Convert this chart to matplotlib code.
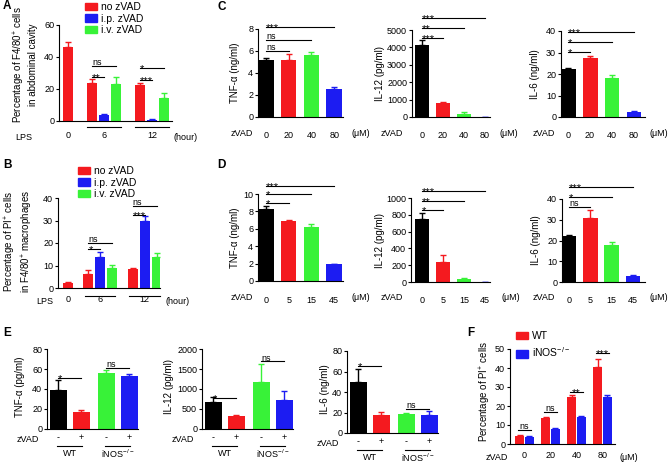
"""
Multi-panel zVAD / LPS bar figure (A-F), GraphPad style.
"""

import matplotlib

matplotlib.use("Agg")
import matplotlib.pyplot as plt
from matplotlib.patches import Patch

plt.rcParams["font.family"] = ["Liberation Sans", "DejaVu Sans"]
plt.rcParams["font.size"] = 7
plt.rcParams["mathtext.fontset"] = "custom"
plt.rcParams["mathtext.rm"] = "Liberation Sans"
plt.rcParams["mathtext.it"] = "Liberation Sans:italic"
plt.rcParams["mathtext.bf"] = "Liberation Sans:bold"

RED, BLUE, GREEN, BLACK = "#f41a1f", "#1c1cf2", "#38f238", "#000000"
W, H = 669, 467
TICK_FS = 6.5

# ---- data -------------------------------------------------------------
lps_labels = ["0", "6", "12"]
treat_labels = ["no zVAD", "i.p. zVAD", "i.v. zVAD"]

# A: % F4/80+ cells in abdominal cavity (0h, 6h x3, 12h x3)
a_vals = [46.5, 23.8, 3.9, 23.4, 22.3, 0.8, 14.6]
a_errs = [2.8, 2.3, 0.6, 3.8, 1.2, 0.3, 3.0]
a_sig = ["ns", "**", "*", "***"]

# B: % PI+ cells in F4/80+ macrophages
b_vals = [2.2, 6.4, 14.0, 9.1, 8.5, 29.6, 14.0]
b_errs = [0.3, 1.6, 2.1, 1.1, 0.4, 2.4, 1.7]
b_sig = ["ns", "*", "ns", "***"]

zvad_c = ["0", "20", "40", "80"]
c_tnf = [5.15, 5.2, 5.65, 2.55]
c_tnf_err = [0.2, 0.5, 0.3, 0.15]
c_tnf_sig = ["***", "ns", "ns"]
c_il12 = [4150, 820, 150, 20]
c_il12_err = [280, 70, 110, 5]
c_il12_sig = ["***", "**", "***"]
c_il6 = [22.3, 27.3, 18.0, 2.5]
c_il6_err = [0.3, 0.9, 1.5, 0.2]
c_il6_sig = ["***", "*", "*"]

zvad_d = ["0", "5", "15", "45"]
d_tnf = [8.3, 6.9, 6.15, 1.95]
d_tnf_err = [0.35, 0.1, 0.35, 0.05]
d_tnf_sig = ["***", "*", "*"]
d_il12 = [750, 240, 30, 3]
d_il12_err = [70, 80, 12, 1]
d_il12_sig = ["***", "**", "*"]
d_il6 = [22.3, 31.0, 17.8, 3.0]
d_il6_err = [0.3, 3.6, 1.4, 0.6]
d_il6_sig = ["***", "*", "ns"]

e_ticks = ["-", "+", "-", "+"]
e_groups = ["WT", r"iNOS$^{-/-}$"]
e_tnf = [39.5, 17.0, 56.5, 53.0]
e_tnf_err = [10.0, 2.0, 3.0, 2.5]
e_il12 = [670, 330, 1180, 720]
e_il12_err = [130, 30, 450, 230]
e_il6 = [49.5, 17.5, 19.0, 18.0]
e_il6_err = [13.0, 3.0, 0.5, 3.5]
e_sig = ["*", "ns"]

f_labels = ["0", "20", "40", "80"]
f_series = ["WT", r"iNOS$^{-/-}$"]
f_wt = [4.0, 13.5, 25.0, 40.5]
f_wt_err = [0.6, 0.8, 1.0, 4.5]
f_ko = [3.7, 8.0, 14.0, 24.5]
f_ko_err = [0.5, 0.3, 1.0, 1.5]
f_sig = ["ns", "ns", "**", "***"]


# ---- helpers ----------------------------------------------------------
def add_ax(fig, l, t, r, b):
    return fig.add_axes([l / W, 1 - b / H, (r - l) / W, (b - t) / H])


def frac(ax, dx, dy):
    bb = ax.get_position()
    return dx / (bb.width * W), dy / (bb.height * H)


def style(ax, ylim, yticks, xlim):
    for s in ["top", "right"]:
        ax.spines[s].set_visible(False)
    for s in ["left", "bottom"]:
        ax.spines[s].set_linewidth(0.8)
    ax.set_ylim(*ylim)
    ax.set_yticks(yticks)
    ax.set_xlim(*xlim)
    ax.tick_params(axis="y", length=2.5, width=0.8, pad=1, labelsize=TICK_FS)
    ax.tick_params(axis="x", length=0, labelsize=TICK_FS)


def bars(ax, x, vals, errs, colors, width):
    ax.bar(x, vals, width, color=colors, edgecolor="none", zorder=2)
    for xi, v, e, c in zip(x, vals, errs, colors):
        ax.errorbar(xi, v, yerr=[[0], [e]], color=c, capsize=2.5,
                    elinewidth=1, capthick=1, zorder=1)


def sig(ax, x1, x2, y, text, center=False):
    ax.plot([x1, x2], [y, y], color="k", lw=0.8, clip_on=False)
    stars = "*" in text
    off = -2.8 if stars else 0.6
    xt = (x1 + x2) / 2 if center else x1
    ax.annotate(text, (xt, y), xytext=(0, off), textcoords="offset points",
                ha="center" if center else "left", va="baseline",
                fontsize=8 if stars else 6.5, annotation_clip=False)


def under(ax, x1, x2, dy):
    _, fy = frac(ax, 0, dy)
    ax.plot([x1, x2], [-fy, -fy], transform=ax.get_xaxis_transform(),
            color="k", lw=0.8, clip_on=False)


def side_text(ax, dx, dy, text, ha):
    fx, fy = frac(ax, dx, dy)
    ax.text(fx, -fy, text, transform=ax.transAxes, ha=ha, va="center",
            fontsize=TICK_FS)


def ylabel(ax, text, dx, yc):
    fx, _ = frac(ax, dx, 0)
    ax.set_ylabel(text, fontsize=7, linespacing=1.15)
    ax.yaxis.set_label_coords(fx, yc)


def legend(ax, colors, labels, x, y, spacing):
    handles = [Patch(color=c, label=l) for c, l in zip(colors, labels)]
    ax.legend(handles=handles, loc="upper left", bbox_to_anchor=(x / W, 1 - y / H),
              bbox_transform=ax.figure.transFigure, frameon=False, fontsize=7.5,
              handlelength=1.15, handleheight=0.75, handletextpad=0.4,
              labelspacing=spacing, borderpad=0, borderaxespad=0)


def cyto_panel(fig, box, xlim, vals, errs, ylim, yticks, ylab, lab_dx, labels,
               sigs, sig_y, zvad_dx, um_dx, row_dy, pad):
    ax = add_ax(fig, *box)
    x = [0, 1, 2, 3]
    bars(ax, x, vals, errs, [BLACK, RED, GREEN, BLUE], 0.68)
    style(ax, ylim, yticks, xlim)
    ax.set_xticks(x, labels)
    ax.tick_params(axis="x", pad=pad)
    for x2, y, s in zip([3, 2, 1], sig_y, sigs):
        sig(ax, 0, x2, y, s)
    side_text(ax, zvad_dx, row_dy, "zVAD", "right")
    side_text(ax, um_dx, row_dy, "(\u03bcM)", "left")
    ylabel(ax, ylab, lab_dx, 0.5)
    return ax


def e_panel(fig, box, vals, errs, ylim, yticks, ylab, sig_y, lab_dx):
    ax = add_ax(fig, *box)
    x = [0, 1, 2.1, 3.1]
    bars(ax, x, vals, errs, [BLACK, RED, GREEN, BLUE], 0.74)
    style(ax, ylim, yticks, (-0.48, 3.48))
    ax.set_xticks(x, e_ticks)
    ax.tick_params(axis="x", pad=3)
    sig(ax, 0, 1, sig_y[0], e_sig[0])
    sig(ax, 2.1, 3.1, sig_y[1], e_sig[1])
    side_text(ax, -8, 10, "zVAD", "right")
    under(ax, -0.05, 1.05, 17)
    under(ax, 2.05, 3.15, 17)
    _, fy = frac(ax, 0, 25)
    ax.text(0.5, -fy, e_groups[0], transform=ax.get_xaxis_transform(),
            ha="center", va="center", fontsize=TICK_FS)
    ax.text(2.6, -fy, e_groups[1], transform=ax.get_xaxis_transform(),
            ha="center", va="center", fontsize=TICK_FS)
    ylabel(ax, ylab, lab_dx, 0.53)
    return ax


def main():
    fig = plt.figure(figsize=(W / 100, H / 100), dpi=100)

    # ---- A ----
    ax = add_ax(fig, 59, 25, 172, 121)
    a_x = [0, 2, 3, 4, 6, 7, 8]
    a_col = [RED, RED, BLUE, GREEN, RED, BLUE, GREEN]
    bars(ax, a_x, a_vals, a_errs, a_col, 0.9)
    style(ax, (0, 60), [0, 20, 40, 60], (-0.75, 8.67))
    ax.set_xticks([0, 3, 7], lps_labels)
    ax.tick_params(axis="x", pad=7)
    under(ax, 1.6, 4.4, 6)
    under(ax, 5.6, 8.4, 6)
    side_text(ax, -27, 16, "LPS", "right")
    side_text(ax, 114, 16, "(hour)", "left")
    sig(ax, 2, 4, 34.4, a_sig[0])
    sig(ax, 2, 3, 27.5, a_sig[1])
    sig(ax, 6, 8, 33.0, a_sig[2])
    sig(ax, 6, 7, 25.6, a_sig[3])
    ylabel(ax, "Percentage of F4/80$^{+}$ cells\nin abdominal cavity", -21, 0.59)
    legend(ax, [RED, BLUE, GREEN], treat_labels, 85, 2, 0.15)

    # ---- B ----
    ax = add_ax(fig, 58, 198, 160, 288)
    b_x = [0, 1.7, 2.7, 3.7, 5.4, 6.4, 7.4]
    bars(ax, b_x, b_vals, b_errs, a_col, 0.85)
    style(ax, (0, 40), [0, 10, 20, 30, 40], (-0.83, 7.67))
    ax.set_xticks([0, 2.7, 6.4], lps_labels)
    ax.tick_params(axis="x", pad=5)
    under(ax, 1.45, 3.95, 8)
    under(ax, 5.1, 7.7, 8)
    side_text(ax, -5, 13, "LPS", "right")
    side_text(ax, 107, 13, "(hour)", "left")
    sig(ax, 1.7, 3.7, 20.0, b_sig[0])
    sig(ax, 1.7, 2.7, 17.3, b_sig[1])
    sig(ax, 5.4, 7.4, 36.4, b_sig[2])
    sig(ax, 5.4, 6.4, 32.4, b_sig[3])
    ylabel(ax, "Percentage of PI$^{+}$ cells\nin F4/80$^{+}$ macrophages", -23, 0.52)
    legend(ax, [RED, BLUE, GREEN], treat_labels, 78, 166, 0.15)

    # ---- C ----
    cyto_panel(fig, (258, 29, 343, 117), (-0.35, 3.39), c_tnf, c_tnf_err, (0, 8),
               [0, 2, 4, 6, 8], "TNF-\u03b1 (ng/ml)", -18, zvad_c, c_tnf_sig,
               [8.18, 7.0, 6.0], -5, 94, 16, 10)
    cyto_panel(fig, (412, 30, 490, 117), (-0.48, 3.24), c_il12, c_il12_err, (0, 5000),
               [0, 1000, 2000, 3000, 4000, 5000], "IL-12 (pg/ml)", -27, zvad_c,
               c_il12_sig, [5690, 5115, 4540], -9, 88, 16, 10)
    cyto_panel(fig, (561, 31, 645, 117), (-0.32, 3.5), c_il6, c_il6_err, (0, 40),
               [0, 10, 20, 30, 40], "IL-6 (ng/ml)", -21, zvad_c, c_il6_sig,
               [39.5, 34.9, 30.2], -6, 89, 16, 10)

    # ---- D ----
    cyto_panel(fig, (258, 194, 343, 281), (-0.35, 3.39), d_tnf, d_tnf_err, (0, 10),
               [0, 2, 4, 6, 8, 10], "TNF-\u03b1 (ng/ml)", -18, zvad_d, d_tnf_sig,
               [10.9, 10.0, 8.97], -5, 94, 17, 11)
    cyto_panel(fig, (411, 198, 490, 282), (-0.52, 3.24), d_il12, d_il12_err, (0, 1000),
               [0, 200, 400, 600, 800, 1000], "IL-12 (pg/ml)", -26, zvad_d,
               d_il12_sig, [1083, 964, 857], -8, 91, 16, 10)
    cyto_panel(fig, (562, 199, 645, 282), (-0.33, 3.57), d_il6, d_il6_err, (0, 40),
               [0, 10, 20, 30, 40], "IL-6 (ng/ml)", -21, zvad_d, d_il6_sig,
               [45.8, 41.0, 36.1], -7, 88, 16, 10)

    # ---- E ----
    e_panel(fig, (47, 349, 138, 429), e_tnf, e_tnf_err, (0, 80), [0, 20, 40, 60, 80],
            "TNF-\u03b1 (pg/ml)", [51.3, 61.5], -22)
    e_panel(fig, (202, 349, 293, 429), e_il12, e_il12_err, (0, 2000),
            [0, 500, 1000, 1500, 2000], "IL-12 (pg/ml)", [770, 1690], -28)
    e_panel(fig, (347, 351, 438, 433), e_il6, e_il6_err, (0, 80), [0, 20, 40, 60, 80],
            "IL-6 (ng/ml)", [65.4, 23.4], -17)

    # ---- F ----
    ax = add_ax(fig, 510, 349, 615, 444)
    fx = [0, 1, 2, 3]
    ax.bar([g - 0.19 for g in fx], f_wt, 0.33, color=RED, zorder=2)
    ax.bar([g + 0.19 for g in fx], f_ko, 0.33, color=BLUE, zorder=2)
    for g, v, e in zip(fx, f_wt, f_wt_err):
        ax.errorbar(g - 0.19, v, yerr=[[0], [e]], color=RED, capsize=2.5,
                    elinewidth=1, capthick=1, zorder=1)
    for g, v, e in zip(fx, f_ko, f_ko_err):
        ax.errorbar(g + 0.19, v, yerr=[[0], [e]], color=BLUE, capsize=2.5,
                    elinewidth=1, capthick=1, zorder=1)
    style(ax, (0, 50), [0, 10, 20, 30, 40, 50], (-0.56, 3.48))
    ax.set_xticks(fx, f_labels)
    ax.tick_params(axis="x", pad=5)
    for g, y, s in zip(fx, [7.4, 16.8, 27.4, 47.9], f_sig):
        sig(ax, g - 0.24, g + 0.24, y, s, center=True)
    side_text(ax, -2, 13, "zVAD", "right")
    side_text(ax, 110, 13, "(\u03bcM)", "left")
    ylabel(ax, "Percentage of PI$^{+}$ cells", -17, 0.55)
    legend(ax, [RED, BLUE], f_series, 516, 331, 0.45)

    # panel letters
    for letter, x, y in [("A", 3, 6), ("B", 3, 165), ("C", 217, 7), ("D", 217, 165),
                         ("E", 3, 333), ("F", 467, 333)]:
        fig.text(x / W, 1 - y / H, letter, fontsize=8.5, fontweight="bold",
                 ha="left", va="center")

    fig.savefig("out.png", dpi=100)
    plt.close(fig)


if __name__ == "__main__":
    main()
